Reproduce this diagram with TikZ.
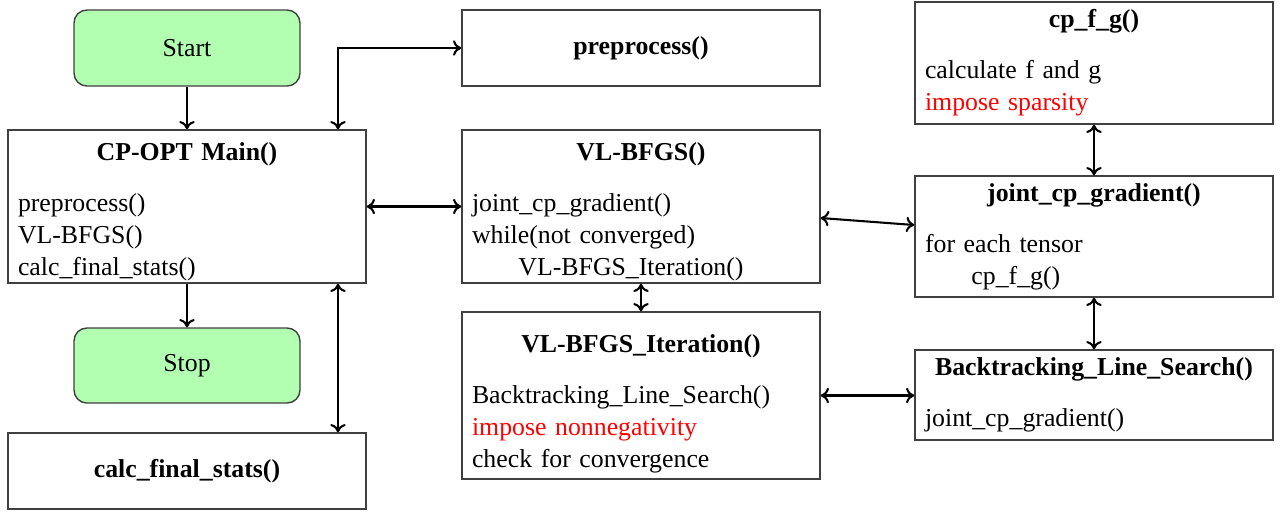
\documentclass[tikz,border=0pt]{standalone}
\usepackage{fontspec}
\setmainfont{Liberation Serif}
\usetikzlibrary{arrows.meta}
\def\pxu{0.3875pt}
\tikzset{
  box/.style={draw=black!75, line width=0.55pt, inner xsep=10*\pxu, inner ysep=0pt,
     minimum width=358*\pxu, text width=338*\pxu, align=left, font=\fontsize{10}{12.4}\selectfont},
  term/.style={draw=black!75, line width=0.55pt, fill=green!30, rounded corners=5pt,
     minimum width=226*\pxu, align=center, font=\fontsize{10}{12}\selectfont},
  conn/.style={line width=0.8pt, {To[length=3.2pt,width=6pt]}-{To[length=3.2pt,width=6pt]}},
  conn1/.style={line width=0.8pt, -{To[length=3.2pt,width=6pt]}}
}
\newcommand{\ttl}[1]{\makebox[\linewidth][c]{\textbf{#1}}}
\begin{document}
\begin{tikzpicture}[x=\pxu, y=-\pxu]
\useasboundingbox (0,0) rectangle (1281,515);
\node[term, minimum height=76*\pxu] (start) at (187,48) {Start};
\node[box, minimum height=153*\pxu] (main) at (187,206.5) {\ttl{\rule{0pt}{11pt}CP-OPT Main()}\\[7.5pt]preprocess()\\VL-BFGS()\\calc\_final\_stats()};
\node[term, minimum height=75*\pxu] (stop) at (187,365.5) {Stop};
\node[box, minimum height=76*\pxu] (calc) at (187,471) {\ttl{calc\_final\_stats()}};
\node[box, minimum height=76*\pxu] (pre) at (641,48) {\ttl{preprocess()}};
\node[box, minimum height=153*\pxu] (vl) at (641,206.5) {\ttl{\rule{0pt}{11pt}VL-BFGS()}\\[7.5pt]joint\_cp\_gradient()\\while(not converged)\\\hspace*{18pt}VL-BFGS\_Iteration()};
\node[box, minimum height=167*\pxu] (it) at (641,395.5) {\ttl{\rule{0pt}{13.6pt}VL-BFGS\_Iteration()}\\[7.5pt]Backtracking\_Line\_Search()\\\textcolor{red}{impose nonnegativity}\\check for convergence};
\node[box, minimum height=122*\pxu] (cpfg) at (1094,63) {\ttl{cp\_f\_g()}\\[7.5pt]calculate f and g\\\textcolor{red}{impose sparsity}};
\node[box, minimum height=121*\pxu] (joint) at (1094,236.5) {\ttl{joint\_cp\_gradient()}\\[7.5pt]for each tensor\\\hspace*{18pt}cp\_f\_g()};
\node[box, minimum height=90*\pxu] (bt) at (1094,395) {\ttl{Backtracking\_Line\_Search()}\\[7.5pt]joint\_cp\_gradient()};

\draw[conn1] (start) -- (main);
\draw[conn1] (main) -- (stop);
\draw[conn] ([xshift=151*\pxu]main.north) |- (pre.west);
\draw[conn] ([xshift=151*\pxu]main.south) -- ([xshift=151*\pxu]calc.north);
\draw[conn] (main.east) -- (vl.west);
\draw[conn] (vl.south) -- (it.north);
\draw[conn] ([yshift=-11.5*\pxu]vl.east) -- ([yshift=11.5*\pxu]joint.west);
\draw[conn] (cpfg.south) -- (joint.north);
\draw[conn] (joint.south) -- (bt.north);
\draw[conn] (it.east) -- (it.east -| bt.west);
\end{tikzpicture}
\end{document}
